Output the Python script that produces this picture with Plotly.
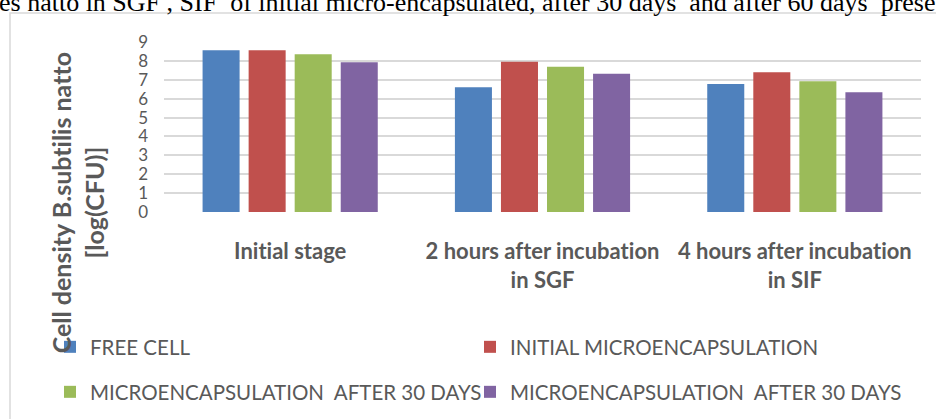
import plotly.graph_objects as go

categories = ["Initial stage", "2 hours after incubation<br>in SGF", "4 hours after incubation<br>in SIF"]
series_names = ["FREE CELL", "INITIAL MICROENCAPSULATION",
                "MICROENCAPSULATION  AFTER 30 DAYS", "MICROENCAPSULATION  AFTER 30 DAYS"]
free_cell = [8.56, 6.61, 6.77]
initial_micro = [8.56, 7.95, 7.40]
micro_30 = [8.35, 7.69, 6.92]
micro_60 = [7.93, 7.32, 6.34]
series_values = [free_cell, initial_micro, micro_30, micro_60]
colors = ["#4F81BD", "#C0504D", "#9BBB59", "#8064A2"]
legend_ids = ["legend", "legend2", "legend3", "legend4"]
y_ticks = list(range(0, 10))

W, H = 936, 419
L, R, T, B = 164, 15, 42, 207
PW = W - L - R
PH = H - T - B

def px(xp):
    return (xp - L) / PW

def py(yp):
    return (H - B - yp) / PH

GRAY = "#595959"

fig = go.Figure()
for name, vals, col, lg in zip(series_names, series_values, colors, legend_ids):
    fig.add_trace(go.Bar(x=categories, y=vals, name=name, marker=dict(color=col, line=dict(width=0)),
                         legend=lg, showlegend=True, hoverinfo="x+y+name"))

legend_common = dict(orientation="h", xanchor="left", yanchor="middle", visible=True,
                     font=dict(family="Lato", size=20.5, color=GRAY),
                     bgcolor="rgba(0,0,0,0)", borderwidth=0)

# legend positions (pixel anchors) for a 2x2 grid
leg_x = [50, 470, 50, 470]
leg_y = [347, 347, 392, 392]
legend_layouts = {lid: dict(x=px(lx), y=py(ly), **legend_common)
                  for lid, lx, ly in zip(legend_ids, leg_x, leg_y)}

fig.update_layout(
    width=W, height=H,
    showlegend=True,
    margin=dict(l=L, r=R, t=T, b=B, autoexpand=False),
    paper_bgcolor="white", plot_bgcolor="white",
    barmode="group", bargap=0.27, bargroupgap=0.196,
    font=dict(family="Lato", color=GRAY),
    xaxis=dict(showgrid=False, showline=False, zeroline=False, ticks="",
               tickfont=dict(family="Lato", size=22, color=GRAY, weight="bold"),
               ticklabelstandoff=24),
    yaxis=dict(range=[0, 9], tickvals=y_ticks, showgrid=True, gridcolor="#d9d9d9", gridwidth=1.6,
               zeroline=False, showline=False, ticks="",
               tickfont=dict(family="Lato", size=17, color=GRAY),
               ticklabelstandoff=15),
    shapes=[dict(type="rect", xref="paper", yref="paper",
                 x0=px(10), x1=px(960), y0=py(440), y1=py(13),
                 line=dict(color="#d9d9d9", width=1.5), fillcolor="rgba(0,0,0,0)", layer="below")],
    annotations=[
        dict(text="Cell density B.subtilis natto<br>[log(CFU)]", xref="paper", yref="paper",
             x=px(77), y=py(203), xanchor="center", yanchor="middle", textangle=-90,
             showarrow=False, font=dict(family="Lato", size=25, color=GRAY, weight="bold")),
        dict(text="es natto in SGF , SIF  of initial micro-encapsulated, after 30 days  and after 60 days  prese",
             xref="paper", yref="paper", x=px(-3), y=py(19.5), xanchor="left", yanchor="bottom",
             showarrow=False, font=dict(family="Liberation Serif", size=26, color="black")),
    ],
    **legend_layouts,
)

post = ("document.body.style.margin='0';document.body.style.overflow='hidden';"
        "var s=document.createElement('style');"
        "s.textContent='text{font-variant-ligatures:none !important;font-feature-settings:\"liga\" 0 !important;}';"
        "document.head.appendChild(s);")

fig.write_html("out.html", config={"displayModeBar": False}, post_script=post)
